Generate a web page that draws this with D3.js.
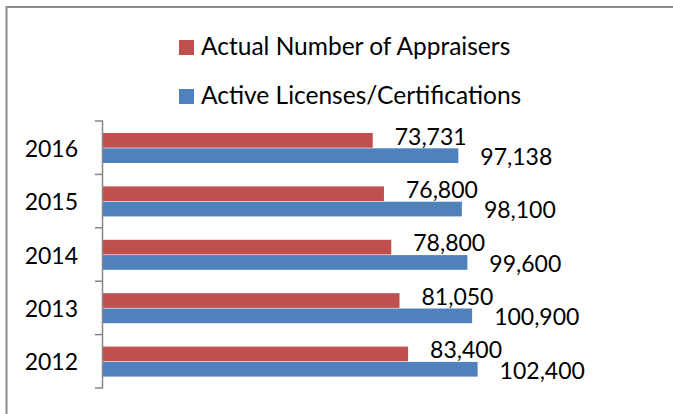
<!DOCTYPE html>
<html>
<head>
<meta charset="utf-8">
<script src="https://cdn.jsdelivr.net/npm/d3@7"></script>
<style>
  body { margin: 0; background: #fff; }
  text { font-family: Lato, "Open Sans", sans-serif; fill: #000; }
</style>
</head>
<body>
<svg id="chart" width="673" height="414"></svg>
<script>
// data
const years = ["2016", "2015", "2014", "2013", "2012"]
const seriesNames = ["Actual Number of Appraisers", "Active Licenses/Certifications"]
const appraisers = [73731, 76800, 78800, 81050, 83400]
const licenses = [97138, 98100, 99600, 100900, 102400]
const seriesColors = ["#C0504D", "#4F81BD"]

const svg = d3.select("#chart")
const fontSize = 23

// outer chart border (right and bottom edges run off the picture)
svg.append("rect")
    .attr("x", 6.5).attr("y", 7)
    .attr("width", 720).attr("height", 450)
    .attr("fill", "none")
    .attr("stroke", "#8c8c8c")
    .attr("stroke-width", 2)

let rows = years.map((y, i) => ({year: y, values: [appraisers[i], licenses[i]]}))

let y = d3.scaleBand().domain(years).range([121, 388])
let ySub = d3.scaleBand().domain([0, 1]).range([12, 42]).paddingInner(0.04)
let x = d3.scaleLinear().domain([0, 120000]).range([103, 542])

// bars
let groups = svg.selectAll("g.row").data(rows).join("g")
    .attr("class", "row")
    .attr("transform", d => `translate(0, ${y(d.year)})`)

groups.selectAll("rect").data(d => d.values).join("rect")
    .attr("x", x(0))
    .attr("y", (d, i) => ySub(i))
    .attr("width", d => x(d) - x(0))
    .attr("height", ySub.bandwidth())
    .attr("fill", (d, i) => seriesColors[i])

// value labels, a bit right of the bar ends
let labelDy = [-3, 2]
groups.selectAll("text").data(d => d.values).join("text")
    .attr("x", d => x(d) + 22)
    .attr("y", (d, i) => ySub(i) + ySub.bandwidth() + labelDy[i])
    .attr("font-size", fontSize)
    .text(d => d3.format(",")(d))

// category axis: ticks between categories
let axis = svg.append("g")
let edges = years.map(d => y(d)).concat([y.range()[1]])
axis.append("line")
    .attr("x1", x(0) - 0.5).attr("x2", x(0) - 0.5)
    .attr("y1", edges[0]).attr("y2", edges[edges.length - 1])
    .attr("stroke", "#868686").attr("stroke-width", 1.5)
axis.selectAll("line.tick").data(edges).join("line")
    .attr("class", "tick")
    .attr("x1", x(0) - 8).attr("x2", x(0))
    .attr("y1", d => d).attr("y2", d => d)
    .attr("stroke", "#868686").attr("stroke-width", 1.5)
axis.selectAll("text").data(years).join("text")
    .attr("x", 78)
    .attr("y", d => y(d) + y.bandwidth() / 2)
    .attr("text-anchor", "end")
    .attr("dominant-baseline", "central")
    .attr("font-size", fontSize)
    .text(d => d)

// legend
let legend = svg.selectAll("g.legend").data(seriesNames).join("g")
    .attr("class", "legend")
    .attr("transform", (d, i) => `translate(179, ${40 + i * 49})`)
legend.append("rect")
    .attr("width", 15).attr("height", 15)
    .attr("fill", (d, i) => seriesColors[i])
legend.append("text")
    .attr("x", 22).attr("y", 15)
    .attr("font-size", 24.5)
    .text(d => d)
</script>
</body>
</html>
